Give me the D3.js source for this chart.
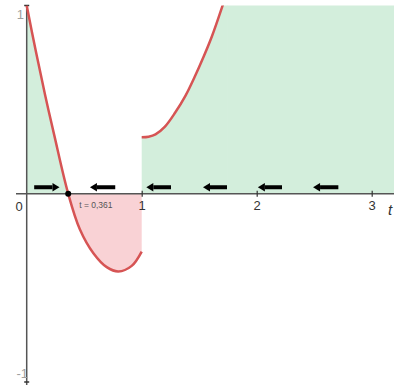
<!DOCTYPE html>
<html>
<head>
<meta charset="utf-8">
<script src="https://cdn.jsdelivr.net/npm/d3@7"></script>
<style>
  body { margin: 0; background: #fff; }
  svg { display: block; font-family: "Liberation Sans", Arial, sans-serif; }
</style>
</head>
<body>
<div id="chart"></div>
<script>
// curve: left piece (t < 1) and right piece (t > 1)
const leftT = [0, 0.08, 0.16, 0.24, 0.361, 0.463, 0.58, 0.696, 0.797, 0.913, 1.0];
const leftV = [1.0, 0.755, 0.525, 0.31, 0, -0.19, -0.316, -0.39, -0.413, -0.383, -0.307];
const rightT = [1.0, 1.06, 1.12, 1.2, 1.29, 1.38, 1.46, 1.54, 1.61, 1.69, 1.75];
const rightV = [0.30, 0.303, 0.315, 0.355, 0.43, 0.52, 0.62, 0.73, 0.835, 0.975, 1.09];

const rootT = 0.361;
const rootLabel = "t = 0,361";

// direction arrows along the axis (tail -> head)
const arrowFrom = [0.065, 0.77, 1.255, 1.742, 2.22, 2.71];
const arrowTo = [0.285, 0.55, 1.04, 1.533, 2.01, 2.49];

const xTicks = [1, 2, 3];
const yTicks = [1, -1];

const width = 394, height = 385;

const svg = d3.select("#chart").append("svg")
  .attr("width", width)
  .attr("height", height);

const x = d3.scaleLinear().domain([0, 3.2]).range([26.7, 394.7]);
const y = d3.scaleLinear().domain([-1, 1]).range([382, 5.5]);

const defs = svg.append("defs");
defs.append("clipPath").attr("id", "above")
  .append("rect")
  .attr("x", x(0)).attr("y", y(1))
  .attr("width", width).attr("height", y(0) - y(1));
defs.append("clipPath").attr("id", "below")
  .append("rect")
  .attr("x", x(0)).attr("y", y(0))
  .attr("width", width).attr("height", y(-1) - y(0));
defs.append("clipPath").attr("id", "plot")
  .append("rect")
  .attr("x", 0).attr("y", y(1))
  .attr("width", width).attr("height", y(-1) - y(1));

const left = leftT.map((t, i) => ({ t: t, v: leftV[i] }));
const right = rightT.map((t, i) => ({ t: t, v: rightV[i] }));

const area = d3.area()
  .x(d => x(d.t))
  .y0(y(0))
  .y1(d => y(d.v))
  .curve(d3.curveCatmullRom);

const line = d3.line()
  .x(d => x(d.t))
  .y(d => y(d.v))
  .curve(d3.curveCatmullRom);

const green = "#d3eedc";
const red = "#f9d2d5";

// fills
svg.append("path").datum(left).attr("d", area)
  .attr("fill", green).attr("clip-path", "url(#above)");
svg.append("path").datum(left).attr("d", area)
  .attr("fill", red).attr("clip-path", "url(#below)");
svg.append("path").datum(right).attr("d", area)
  .attr("fill", green).attr("clip-path", "url(#above)");
// past the top of the window the region is filled up to the edge
const lastT = rightT[rightT.length - 1];
svg.append("rect")
  .attr("x", x(lastT) - 0.5)
  .attr("y", y(1))
  .attr("width", width - x(lastT) + 0.5)
  .attr("height", y(0) - y(1))
  .attr("fill", green);

// axes
const axisColor = "#555";
svg.append("line")
  .attr("x1", 16).attr("x2", width)
  .attr("y1", y(0)).attr("y2", y(0))
  .attr("stroke", axisColor).attr("stroke-width", 1.5);
svg.append("line")
  .attr("x1", x(0)).attr("x2", x(0))
  .attr("y1", y(1) - 0.5).attr("y2", height)
  .attr("stroke", axisColor).attr("stroke-width", 1.5);

const xAxis = svg.append("g")
  .attr("transform", `translate(0,${y(0)})`)
  .call(d3.axisBottom(x).tickValues(xTicks).tickSize(3).tickFormat(d3.format("d")));
xAxis.select(".domain").remove();
xAxis.selectAll(".tick line")
  .attr("y1", -3).attr("stroke", "#333").attr("stroke-width", 1.2);
xAxis.selectAll(".tick text")
  .attr("y", 7)
  .attr("fill", "#333")
  .style("font-size", "13px")
  .style("font-family", "Liberation Sans, Arial, sans-serif");

svg.append("text")
  .attr("x", 19).attr("y", 211)
  .attr("text-anchor", "middle")
  .attr("fill", "#333").style("font-size", "13px")
  .text("0");
svg.append("text")
  .attr("x", 390).attr("y", 215)
  .attr("text-anchor", "middle")
  .attr("fill", "#333").style("font-size", "15px")
  .style("font-style", "italic")
  .text("t");

// y ticks and labels
svg.selectAll(".ytick").data(yTicks).join("line")
  .attr("class", "ytick")
  .attr("x1", x(0) - 2.5).attr("x2", x(0) + 2.5)
  .attr("y1", d => y(d)).attr("y2", d => y(d))
  .attr("stroke", "#333").attr("stroke-width", 1.5);
svg.selectAll(".ylab").data(yTicks).join("text")
  .attr("class", "ylab")
  .attr("x", d => d > 0 ? 24 : 28)
  .attr("y", d => d > 0 ? y(d) + 13 : y(d) - 4)
  .attr("text-anchor", "end")
  .attr("fill", "#a0a0a0")
  .style("font-size", "13px")
  .text(d => d);

// arrows
const arrows = svg.append("g").attr("fill", "#000").attr("stroke", "#000");
const arrowY = y(0) - 6.5;
arrowFrom.forEach((f, i) => {
  const x0 = x(f), x1 = x(arrowTo[i]);
  const dir = Math.sign(x1 - x0);
  const headLen = 7;
  arrows.append("line")
    .attr("x1", x0).attr("x2", x1 - dir * headLen)
    .attr("y1", arrowY).attr("y2", arrowY)
    .attr("stroke-width", 4);
  arrows.append("path")
    .attr("stroke", "none")
    .attr("d", `M${x1},${arrowY} L${x1 - dir * headLen},${arrowY - 4.2} L${x1 - dir * headLen},${arrowY + 4.2} Z`);
});

// the curve itself
const curveColor = "#d65454";
const curves = svg.append("g").attr("clip-path", "url(#plot)");
curves.append("path").datum(left).attr("d", line)
  .attr("fill", "none").attr("stroke", curveColor).attr("stroke-width", 2.5);
curves.append("path").datum(right).attr("d", line)
  .attr("fill", "none").attr("stroke", curveColor).attr("stroke-width", 2.5);

// root marker
svg.append("circle")
  .attr("cx", x(rootT)).attr("cy", y(0)).attr("r", 3)
  .attr("fill", "#000");
svg.append("text")
  .attr("x", x(rootT) + 11).attr("y", y(0) + 14)
  .attr("fill", "#555")
  .style("font-size", "8.5px")
  .text(rootLabel);
</script>
</body>
</html>
